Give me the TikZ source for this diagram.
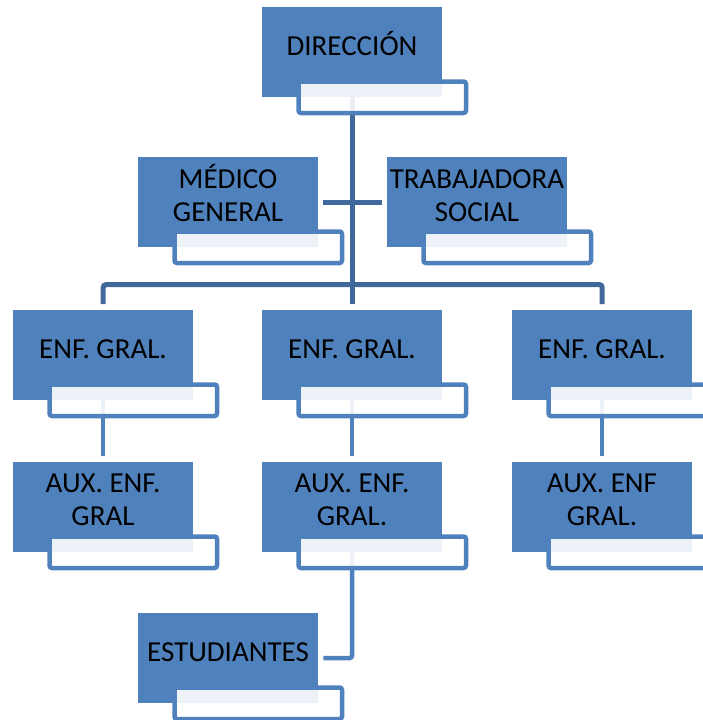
\documentclass[tikz,border=0pt]{standalone}
\usepackage{fontspec}
\setmainfont{Carlito}
\usetikzlibrary{calc}
\definecolor{boxblue}{RGB}{79,129,189}
\definecolor{lineblue}{RGB}{64,104,154}
\tikzset{
  orgbox/.style={fill=boxblue, draw=none, minimum width=180pt, minimum height=90pt, inner sep=0pt, anchor=north west},
  orgtab/.style={draw=boxblue, line width=4.5pt, fill=white, fill opacity=0.9, rounded corners=2.5pt,
                 minimum width=167.5pt, minimum height=31.5pt, inner sep=0pt, anchor=north west},
  orglbl/.style={font=\fontsize{29pt}{33pt}\selectfont, text=black, anchor=base, align=center, inner sep=0pt},
  lvlone/.style={draw=lineblue, line width=5pt},
  lvltwo/.style={draw=boxblue, line width=4.5pt},
}
\begin{document}
\begin{tikzpicture}[x=1pt,y=-1pt]
\useasboundingbox (0,0) rectangle (703,720);
\clip (0,0) rectangle (703,720);
% blue boxes
\node[orgbox] (dir)  at (262,7)   {};
\node[orgbox] (med)  at (138,157) {};
\node[orgbox] (tra)  at (387,157) {};
\node[orgbox] (enfa) at (13,310)  {};
\node[orgbox] (enfb) at (262,310) {};
\node[orgbox] (enfc) at (512,310) {};
\node[orgbox] (auxa) at (13,462)  {};
\node[orgbox] (auxb) at (262,462) {};
\node[orgbox] (auxc) at (512,462) {};
\node[orgbox] (est)  at (138,613) {};
% connectors
\draw[lvlone, shorten >=6pt] (dir.south) -- (enfb.north);
\draw[lvlone, rounded corners=3pt, shorten <=6pt, shorten >=6pt] (enfa.north) -- ++(0,-25.5) -| (enfc.north);
\draw[lvlone, shorten <=5pt, shorten >=5pt] (med.east) -- (tra.west);
\draw[lvltwo, shorten >=6pt] (enfa.south) -- (auxa.north);
\draw[lvltwo, shorten >=6pt] (enfb.south) -- (auxb.north);
\draw[lvltwo, shorten >=6pt] (enfc.south) -- (auxc.north);
\draw[lvltwo, rounded corners=3pt, shorten >=5pt] (auxb.south) |- (est.east);
% tabs
\foreach \n in {dir,med,tra,enfa,enfb,enfc,auxa,auxb,auxc,est}{
  \node[orgtab] (\n tab) at ([xshift=34.25pt,yshift=-72.25pt]\n.north west) {};
}
% labels
\node[orglbl] (dirl)  at ([xshift=90pt,yshift=-48pt]dir.north west)  {DIRECCIÓN};
\node[orglbl] (medl)  at ([xshift=90pt,yshift=-64pt]med.north west)  {MÉDICO\\GENERAL};
\node[orglbl] (tral)  at ([xshift=90pt,yshift=-64pt]tra.north west)  {TRABAJADORA\\SOCIAL};
\node[orglbl] (enfal) at ([xshift=90pt,yshift=-48pt]enfa.north west) {ENF. GRAL.};
\node[orglbl] (enfbl) at ([xshift=90pt,yshift=-48pt]enfb.north west) {ENF. GRAL.};
\node[orglbl] (enfcl) at ([xshift=90pt,yshift=-48pt]enfc.north west) {ENF. GRAL.};
\node[orglbl] (auxal) at ([xshift=90pt,yshift=-63pt]auxa.north west) {AUX. ENF.\\GRAL};
\node[orglbl] (auxbl) at ([xshift=90pt,yshift=-63pt]auxb.north west) {AUX. ENF.\\GRAL.};
\node[orglbl] (auxcl) at ([xshift=90pt,yshift=-63pt]auxc.north west) {AUX. ENF\\GRAL.};
\node[orglbl] (estl)  at ([xshift=90pt,yshift=-48pt]est.north west)  {ESTUDIANTES};
\end{tikzpicture}
\end{document}
